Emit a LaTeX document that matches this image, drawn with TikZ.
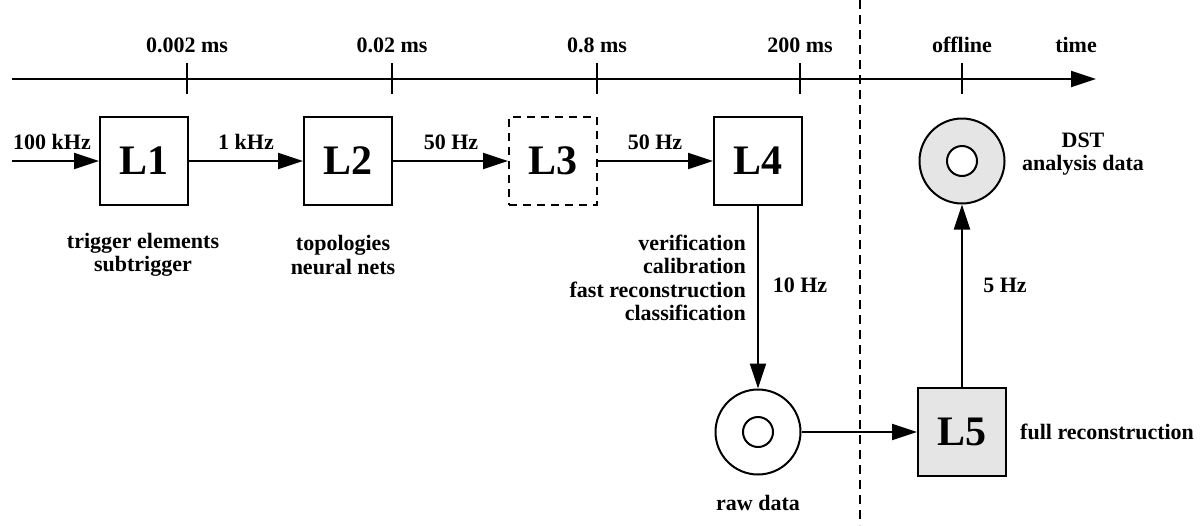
\documentclass[tikz,border=0pt]{standalone}
\usepackage{fontspec}
\setmainfont{Liberation Serif}
\usetikzlibrary{arrows.meta}
\definecolor{lgray}{HTML}{E5E5E5}
\tikzset{
  lw/.style={line width=2pt},
  arr/.style={lw,-{Triangle[length=25pt,width=16pt]}},
  lbl/.style={font=\fontsize{22}{23.5}\selectfont\bfseries, inner sep=0pt},
  lbox/.style={lw, draw, minimum width=88pt, minimum height=88pt, inner sep=0pt, font=\fontsize{42}{46}\selectfont\bfseries},
  disk/.style={lw, draw, circle, minimum size=85pt, inner sep=0pt},
  hole/.style={lw, draw, circle, fill=white, minimum size=30pt, inner sep=0pt},
  tick/.style={lw},
}
\begin{document}
\begin{tikzpicture}[x=1pt,y=-1pt]
\useasboundingbox (0,0) rectangle (1204,525);
% axis
\coordinate (a0) at (12,79);
\coordinate (a1) at (1096,79);
\draw[arr] (a0) -- (a1);
\foreach \x/\t in {187/0.002 ms,392/0.02 ms,597/0.8 ms,800/200 ms,962/offline}{
  \draw[tick] (\x,63) -- (\x,94);
  \node[lbl] at (\x,45) {\t};
}
\node[lbl] at (1076,45) {time};
% dashed separator
\coordinate (d0) at (860,0);
\coordinate (d1) at (860,525);
\draw[lw,dash pattern=on 9pt off 6pt] (d0) -- (d1);
% boxes
\node[lbox] (L1) at (144,161) {L1};
\node[lbox] (L2) at (348,161) {L2};
\node[lbox,dash pattern=on 8pt off 6pt] (L3) at (553,161) {L3};
\node[lbox] (L4) at (758,161) {L4};
\node[lbox,fill=lgray] (L5) at (962,432) {L5};
% disks
\node[disk] (raw) at (758,432) {};
\node[hole] (rawh) at (758,432) {};
\node[disk,fill=lgray] (dst) at (962,161) {};
\node[hole] (dsth) at (962,161) {};
% connectors
\coordinate (in) at (12,161);
\draw[arr] (in) -- (L1.west);
\draw[arr] (L1) -- (L2);
\draw[arr] (L2) -- (L3);
\draw[arr] (L3) -- (L4);
\draw[arr] (L4) -- (raw);
\draw[arr] (raw) -- (L5);
\draw[arr] (L5) -- (dst);
% rate labels
\node[lbl] at (52,142) {100 kHz};
\node[lbl] at (246,142) {1 kHz};
\node[lbl] at (451,142) {50 Hz};
\node[lbl] at (655,142) {50 Hz};
\node[lbl] at (800,285) {10 Hz};
\node[lbl] at (1005,285) {5 Hz};
% descriptions
\node[lbl,align=center] at (143,255) {trigger elements\\subtrigger};
\node[lbl,align=center] at (343,255) {topologies\\neural nets};
\node[lbl,align=right,anchor=east] at (746,278) {verification\\calibration\\fast reconstruction\\classification};
\node[lbl] at (758,503) {raw data};
\node[lbl,anchor=west] at (1020,432) {full reconstruction};
\node[lbl,align=center] at (1083,154) {DST\\analysis data};
\end{tikzpicture}
\end{document}
